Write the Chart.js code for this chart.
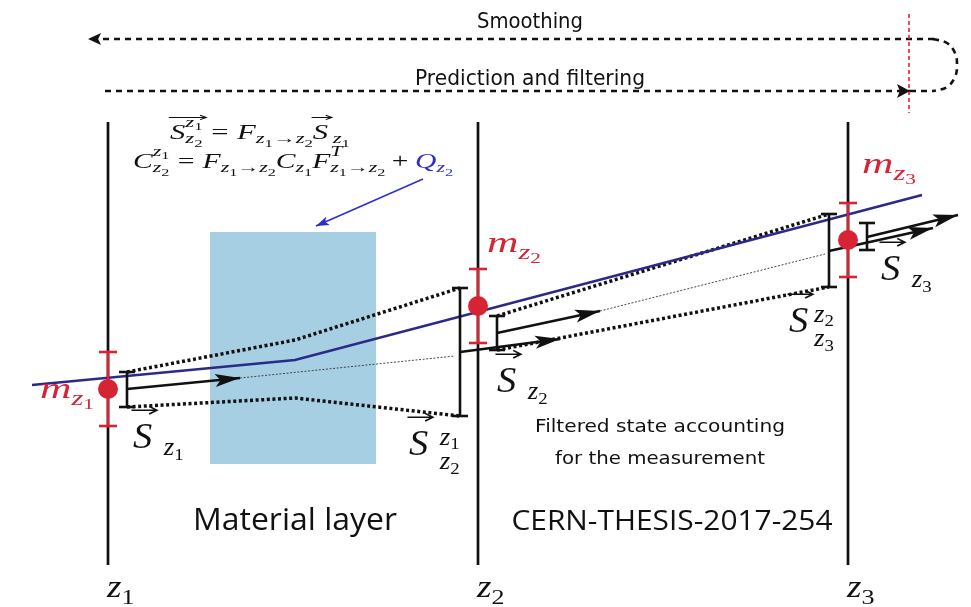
<!DOCTYPE html>
<html>
<head>
<meta charset="utf-8">
<title>Kalman filter track fit</title>
<script src="https://cdn.jsdelivr.net/npm/chart.js@4/dist/chart.umd.min.js"></script>
<style>
  html, body { margin: 0; padding: 0; background: #fff; }
  canvas { display: block; }
</style>
</head>
<body>
<canvas id="kalman" width="971" height="607"></canvas>
<script>
// every value is in diagram units: x 0..971 left to right, y 0..607 top to bottom

// detector planes
const planeX = [108, 478, 848];
const planeSpan = [122, 565];
const planeNames = ['z_1', 'z_2', 'z_3'];

// measurements m_z with their errors
const measY = [389, 306, 240];
const measErr = [37, 37, 37];

// true trajectory
const trackX = [32, 295, 922];
const trackY = [385, 360, 195];

// material layer block
const layerX = [210, 376];
const layerY = [232, 464];

// state error bars (filtered at z1, predicted/filtered at z2 and z3)
const stateX = [127, 460, 497, 829, 867];
const stateLo = [372, 288, 316, 214, 223];
const stateHi = [407, 416, 350, 287, 250];

// state vectors, from start to tip
const vecX0 = [127, 460, 497, 829, 867];
const vecY0 = [389, 352, 333, 251, 237];
const vecX1 = [240, 560, 600, 933, 958];
const vecY1 = [378, 339, 311, 228, 215];

// error envelopes carried between planes
const upper1X = [127, 295, 460], upper1Y = [372, 340, 288];
const lower1X = [127, 295, 460], lower1Y = [407, 398, 416];
const upper2X = [497, 829], upper2Y = [316, 214];
const lower2X = [497, 829], lower2Y = [350, 287];

// extrapolation of the state vector
const extra1X = [240, 455], extra1Y = [378, 356];
const extra2X = [600, 825], extra2Y = [311, 254];

// smoothing / prediction passes at the top
const smoothX = [934, 88], smoothY = [39, 39];
const turnX = [933, 947, 955, 957, 955, 947, 934];
const turnY = [39, 43, 53, 65, 77, 87, 91];
const predX = [105, 910], predY = [91, 91];
const predTailX = [910, 934], predTailY = [91, 91];
const markX = [909, 909], markY = [14, 113];

// process noise pointer
const noiseX = [423, 316], noiseY = [179, 226];

// text
const mathTex = [
  '\\vec{S^{z_1}_{z_2}}=F_{z_1\\to z_2}\\vec{S}\\,_{z_1}',
  'C^{z_1}_{z_2}=F_{z_1\\to z_2}C_{z_1}F^T_{z_1\\to z_2}+\\blue{Q_{z_2}}',
  'm_{z_1}', 'm_{z_2}', 'm_{z_3}',
  '\\vec{S}\\;_{z_1}', '\\vec{S}\\;_{z_2}', '\\vec{S}\\;^{z_1}_{z_2}',
  '\\vec{S}\\;_{z_3}', '\\vec{S}\\,^{z_2}_{z_3}'
];
const mathX = [170, 133, 40, 487, 862, 133, 497, 409, 881, 789];
const mathY = [139, 168, 398, 252, 173, 448, 392, 455, 280, 332];

const captions = ['Smoothing', 'Prediction and filtering', 'Filtered state accounting',
  'for the measurement', 'Material layer', 'CERN-THESIS-2017-254'];
const captionX = [530, 530, 660, 660, 295, 672];
const captionY = [28, 85, 432, 464, 530, 530];

const BLACK = '#111111';
const RED = '#d62435';
const NAVY = '#2c2a88';
const BLUE = '#2d2dd2';
const LAYER = '#a7cfe3';

const formula = { size: 20, k: 0.74, sup: 0.6, sub: 0.22, subBoth: 0.22 };
const redLabel = { size: 30, sx: 1.45, color: RED, sup: 0.4, sub: 0.22, subBoth: 0.3 };
const bigS = { size: 35, sx: 1.1, sup: 0.3, sub: 0.2, subBoth: 0.4 };
const mathStyle = [
  Object.assign({ w: 180 }, formula), Object.assign({ w: 320 }, formula),
  redLabel, redLabel, redLabel,
  bigS, bigS, bigS, bigS, bigS
];
const planeStyle = { size: 31, sx: 1.2, sup: 0.4, sub: 0.22, subBoth: 0.3 };
const captionStyle = [
  { font: '21px "DejaVu Sans"', w: 106 },
  { font: '21px "DejaVu Sans"', w: 230 },
  { font: '18px "DejaVu Sans"', w: 250 },
  { font: '18px "DejaVu Sans"', w: 210 },
  { font: '31px "Open Sans"', w: 204 },
  { font: '28px "Open Sans"', w: 321 }
];

function line(xs, ys, style) {
  return Object.assign({
    data: xs.map((x, i) => ({ x: x, y: ys[i] })),
    showLine: true,
    pointRadius: 0,
    borderWidth: 2.5,
    borderColor: BLACK,
    fill: false,
    tension: 0
  }, style);
}

function ibeam(x, lo, hi, half, style) {
  return [
    line([x, x], [lo, hi], style),
    line([x - half, x + half], [lo, lo], style),
    line([x - half, x + half], [hi, hi], style)
  ];
}

// datasets listed bottom to top
const datasets = [];

datasets.push(line(layerX, [layerY[0], layerY[0]], {
  borderWidth: 0, borderColor: 'rgba(0,0,0,0)', backgroundColor: LAYER, fill: { value: layerY[1] }
}));

planeX.forEach(x => datasets.push(line([x, x], planeSpan, { borderWidth: 2.7 })));

const thin = { borderWidth: 0.9, borderColor: '#333', borderDash: [2, 1.6] };
datasets.push(line(extra1X, extra1Y, thin));
datasets.push(line(extra2X, extra2Y, thin));

const dotted = { borderWidth: 3.5, borderDash: [3, 2.6] };
datasets.push(line(upper1X, upper1Y, dotted));
datasets.push(line(lower1X, lower1Y, dotted));
datasets.push(line(upper2X, upper2Y, dotted));
datasets.push(line(lower2X, lower2Y, dotted));

datasets.push(line(trackX, trackY, { borderColor: NAVY, borderWidth: 2.5 }));

const dashed = { borderWidth: 2.6, borderDash: [6, 5] };
datasets.push(line(smoothX, smoothY, Object.assign({ head: [13, 6] }, dashed)));
datasets.push(line(turnX, turnY, Object.assign({}, dashed, { tension: 0.4 })));
datasets.push(line(predX, predY, Object.assign({ head: [13, 7] }, dashed)));
datasets.push(line(predTailX, predTailY, dashed));
datasets.push(line(markX, markY, { borderWidth: 1.6, borderColor: '#e4262a', borderDash: [4, 3] }));

datasets.push(line(noiseX, noiseY, { borderWidth: 1.5, borderColor: BLUE, head: [13, 4.5] }));

vecX0.forEach((x, i) => {
  datasets.push(line([x, vecX1[i]], [vecY0[i], vecY1[i]], { borderWidth: 2.5, head: [25, 6.5] }));
});

stateX.forEach((x, i) => {
  ibeam(x, stateLo[i], stateHi[i], 8, { borderWidth: 2.6 }).forEach(d => datasets.push(d));
});

planeX.forEach((x, i) => {
  ibeam(x, measY[i] - measErr[i], measY[i] + measErr[i], 9, { borderWidth: 2.6, borderColor: RED })
    .forEach(d => datasets.push(d));
});

datasets.push({
  data: planeX.map((x, i) => ({ x: x, y: measY[i] })),
  showLine: false,
  pointRadius: 10,
  pointBorderWidth: 0,
  pointBackgroundColor: RED
});

datasets.forEach((d, i) => { d.order = datasets.length - i; });

// tiny TeX-like renderer for the labels
function parseTex(src) {
  let i = 0;
  function group() {
    const out = [];
    while (i < src.length) {
      const c = src[i];
      if (c === '}') { i++; break; }
      if (c === '{') { i++; out.push({ g: group() }); continue; }
      if (c === ' ') { i++; continue; }
      if (c === '\\') {
        const m = /^\\([a-zA-Z]+|.)/.exec(src.slice(i));
        i += m[0].length;
        const cmd = m[1];
        if (cmd === 'to') out.push({ c: '\u2192' });
        else if (cmd === ',') out.push({ sp: 0.15 });
        else if (cmd === ';') out.push({ sp: 0.3 });
        else if (cmd === 'vec') { i++; out.push({ vec: group() }); }
        else if (cmd === 'blue') { i++; out.push({ g: group(), color: BLUE }); }
        continue;
      }
      if (c === '_' || c === '^') {
        i++;
        let arg;
        if (src[i] === '{') { i++; arg = group(); } else { arg = [{ c: src[i] }]; i++; }
        let prev = out[out.length - 1];
        if (!prev.scr) { prev = { scr: true, base: prev }; out[out.length - 1] = prev; }
        if (c === '_') prev.sub = arg; else prev.sup = arg;
        continue;
      }
      out.push({ c: c });
      i++;
    }
    return out;
  }
  return group();
}

function texRun(ctx, nodes, x, y, size, st, color, draw) {
  let w = 0;
  nodes.forEach(n => { w += texNode(ctx, n, x + w, y, size, st, color, draw); });
  return w;
}

function texNode(ctx, n, x, y, size, st, color, draw) {
  if (n.sp) return n.sp * size;
  if (n.g) return texRun(ctx, n.g, x, y, size, st, n.color || color, draw);
  if (n.scr) {
    const wb = texNode(ctx, n.base, x, y, size, st, color, draw);
    const s = size * (st.k || 0.7);
    let wsup = 0, wsub = 0;
    if (n.sup) wsup = texRun(ctx, n.sup, x + wb, y - size * st.sup, s, st, color, draw);
    if (n.sub) wsub = texRun(ctx, n.sub, x + wb, y + size * (n.sup ? st.subBoth : st.sub), s, st, color, draw);
    return wb + Math.max(wsup, wsub);
  }
  if (n.vec) {
    const w = texRun(ctx, n.vec, x, y, size, st, color, draw);
    if (draw) {
      const ay = y - size * 1.08;
      const x0 = x - size * 0.04, x1 = x + w + size * 0.12;
      ctx.save();
      ctx.strokeStyle = color;
      ctx.lineWidth = Math.max(1, size * 0.045);
      ctx.beginPath();
      ctx.moveTo(x0, ay);
      ctx.lineTo(x1, ay);
      ctx.moveTo(x1 - size * 0.2, ay - size * 0.11);
      ctx.lineTo(x1, ay);
      ctx.lineTo(x1 - size * 0.2, ay + size * 0.11);
      ctx.stroke();
      ctx.restore();
    }
    return w;
  }
  const italic = /[A-Za-z]/.test(n.c);
  const pad = n.c === '=' ? size * 0.28 : n.c === '+' ? size * 0.22 : 0;
  ctx.font = (italic ? 'italic ' : '') + size + 'px "Liberation Serif", serif';
  if (draw) {
    ctx.fillStyle = color;
    ctx.fillText(n.c, x + pad, y);
  }
  return ctx.measureText(n.c).width + pad * 2;
}

function drawTex(ctx, src, px, py, st) {
  const nodes = parseTex(src);
  ctx.save();
  ctx.textBaseline = 'alphabetic';
  ctx.textAlign = 'left';
  let sx = st.sx || 1;
  if (st.w) sx = st.w / texRun(ctx, nodes, 0, 0, st.size, st, BLACK, false);
  ctx.translate(px, py);
  ctx.scale(sx, 1);
  texRun(ctx, nodes, 0, 0, st.size, st, st.color || BLACK, true);
  ctx.restore();
}

const arrowHeads = {
  id: 'arrowHeads',
  afterDatasetsDraw(chart) {
    const ctx = chart.ctx;
    chart.data.datasets.forEach((ds, i) => {
      if (!ds.head) return;
      const pts = chart.getDatasetMeta(i).data;
      const a = pts[pts.length - 2], b = pts[pts.length - 1];
      const ang = Math.atan2(b.y - a.y, b.x - a.x);
      const len = ds.head[0], half = ds.head[1];
      ctx.save();
      ctx.translate(b.x, b.y);
      ctx.rotate(ang);
      ctx.beginPath();
      ctx.moveTo(0, 0);
      ctx.lineTo(-len, -half);
      ctx.lineTo(-len * 0.78, 0);
      ctx.lineTo(-len, half);
      ctx.closePath();
      ctx.fillStyle = ds.borderColor;
      ctx.fill();
      ctx.restore();
    });
  }
};

const texts = {
  id: 'texts',
  afterDatasetsDraw(chart) {
    const ctx = chart.ctx;
    const xs = chart.scales.x, ys = chart.scales.y;

    mathTex.forEach((t, i) => {
      drawTex(ctx, t, xs.getPixelForValue(mathX[i]), ys.getPixelForValue(mathY[i]), mathStyle[i]);
    });
    planeNames.forEach((t, i) => {
      drawTex(ctx, t, xs.getPixelForValue(planeX[i] - 1), ys.getPixelForValue(597), planeStyle);
    });

    captions.forEach((t, i) => {
      const st = captionStyle[i];
      ctx.save();
      ctx.font = st.font;
      ctx.fillStyle = BLACK;
      ctx.textAlign = 'center';
      ctx.textBaseline = 'alphabetic';
      const k = st.w / ctx.measureText(t).width;
      ctx.translate(xs.getPixelForValue(captionX[i]), ys.getPixelForValue(captionY[i]));
      ctx.scale(k, 1);
      ctx.fillText(t, 0, 0);
      ctx.restore();
    });
  }
};

new Chart(document.getElementById('kalman'), {
  type: 'scatter',
  data: { datasets: datasets },
  options: {
    responsive: false,
    animation: false,
    devicePixelRatio: 1,
    events: [],
    layout: { padding: 0, autoPadding: false },
    plugins: { legend: { display: false }, tooltip: { enabled: false } },
    scales: {
      x: { type: 'linear', min: 0, max: 971, display: false },
      y: { type: 'linear', min: 0, max: 607, reverse: true, display: false }
    }
  },
  plugins: [arrowHeads, texts]
});
</script>
</body>
</html>
